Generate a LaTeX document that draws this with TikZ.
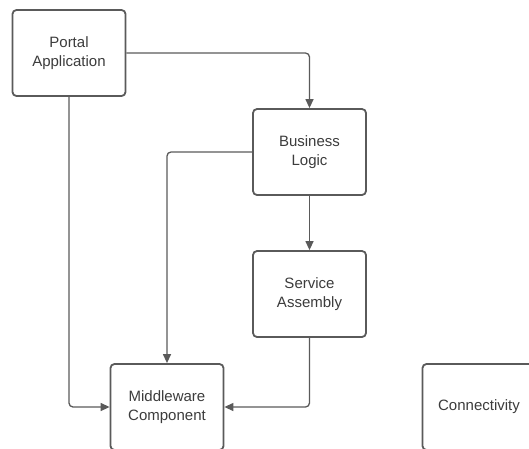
\documentclass[tikz,border=0pt]{standalone}
\usepackage{fontspec}
\setmainfont{Liberation Sans}
\usetikzlibrary{arrows.meta}
\definecolor{linegray}{HTML}{5A5A5A}
\definecolor{textgray}{HTML}{3C3C3C}
\begin{document}
\begin{tikzpicture}[x=1pt,y=-1pt,
  block/.style={draw=linegray, line width=1.8pt, rounded corners=4pt, fill=white,
    minimum width=113pt, minimum height=86pt, inner sep=0pt,
    align=center, text=textgray,
    font=\fontsize{15}{19}\selectfont},
  link/.style={draw=linegray, line width=1.3pt, rounded corners=4pt,
    -{Triangle[length=9pt,width=8pt]}}]
  \useasboundingbox (0,0) rectangle (529,448);
  \begin{scope}
    \clip (0,0) rectangle (529,448);
    \node[block] (portal) at (69,53) {Portal\\Application};
    \node[block] (logic) at (309.5,152) {Business\\Logic};
    \node[block] (assembly) at (309.5,294) {Service\\Assembly};
    \node[block] (middleware) at (167,407) {Middleware\\Component};
    \node[block] (conn) at (479,407) {Connectivity};
  \end{scope}
  \draw[link] (portal.east) -| (logic.north);
  \draw[link] (logic.south) -- (assembly.north);
  \draw[link] (portal.south) |- (middleware.west);
  \draw[link] (logic.west) -| (middleware.north);
  \draw[link] (assembly.south) |- (middleware.east);
\end{tikzpicture}
\end{document}
